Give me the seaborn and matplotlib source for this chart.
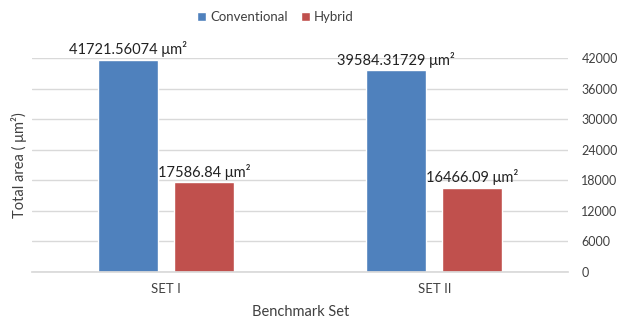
import matplotlib
matplotlib.use("Agg")
import matplotlib.pyplot as plt
import seaborn as sns
import pandas as pd

sets = ["SET I", "SET II"]
conventional = [41721.56074, 39584.31729]
hybrid = [17586.84, 16466.09]
conventional_labels = ["41721.56074", "39584.31729"]
hybrid_labels = ["17586.84", "16466.09"]
series = ["Conventional", "Hybrid"]
yticks = [0, 6000, 12000, 18000, 24000, 30000, 36000, 42000]

df = pd.DataFrame({
    "set": sets * 2,
    "area": conventional + hybrid,
    "design": [series[0]] * 2 + [series[1]] * 2,
})

sns.set_theme(style="white")
plt.rcParams["font.family"] = ["Lato", "DejaVu Sans"]
text_color = "#404040"

fig = plt.figure(figsize=(6.19, 3.23), dpi=100)
ax = fig.add_axes([0.052, 0.158, 0.866, 0.662])

sns.barplot(data=df, x="set", y="area", hue="design",
            palette=["#4F81BD", "#C0504D"], saturation=1,
            width=0.567, gap=0.21, ax=ax, legend=True)

ax.set_ylim(0, 42000)
ax.set_yticks(yticks)
ax.set_yticklabels([str(t) for t in yticks], fontsize=9, color=text_color)
ax.yaxis.tick_right()
ax.tick_params(axis="y", length=0, pad=9.5)
ax.tick_params(axis="x", length=0, pad=8, labelsize=9.5, labelcolor=text_color)
ax.grid(axis="y", color="#D9D9D9", linewidth=1)
ax.set_axisbelow(True)
for side in ["top", "left", "right"]:
    ax.spines[side].set_visible(False)
ax.spines["bottom"].set_color("#D9D9D9")

ax.set_xlabel("Benchmark Set", fontsize=10.5, color=text_color, labelpad=7)
ax.set_ylabel("Total area ( μm²)", fontsize=10.5, color=text_color, labelpad=4)

labels = [conventional_labels, hybrid_labels]
for container, texts in zip(ax.containers, labels):
    ax.bar_label(container, labels=[t + " μm²" for t in texts],
                 fontsize=10.5, color="#222222", padding=2)

handles, names = ax.get_legend_handles_labels()
ax.legend(handles, names, loc="center", bbox_to_anchor=(0.445, 0.947),
          bbox_transform=fig.transFigure, ncol=2, frameon=False,
          fontsize=9.5, handlelength=0.7, handleheight=0.7,
          handletextpad=0.3, columnspacing=1.0, labelcolor=text_color)

fig.savefig("out.png", dpi=100)
